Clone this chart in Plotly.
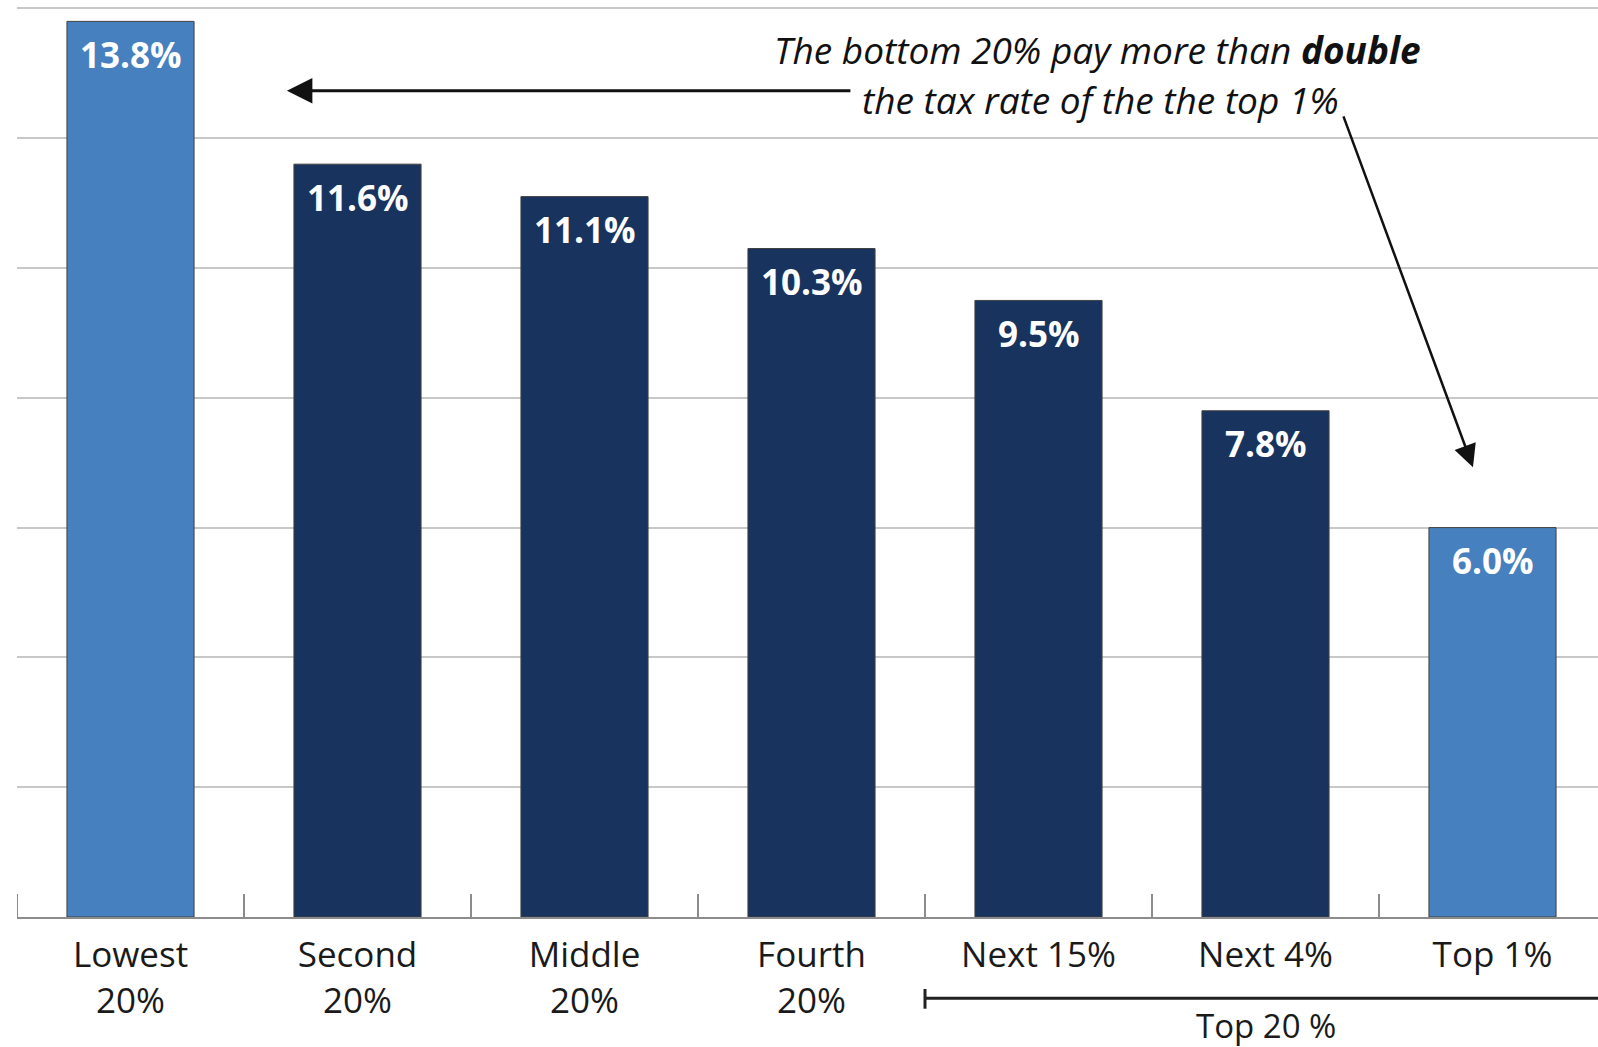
import plotly.graph_objects as go

# Effective federal tax rates by income group
groups = ["Lowest<br>20%", "Second<br>20%", "Middle<br>20%", "Fourth<br>20%",
          "Next 15%", "Next 4%", "Top 1%"]
rates = [13.8, 11.6, 11.1, 10.3, 9.5, 7.8, 6.0]
highlight = [True, False, False, False, False, False, True]

LIGHT = "#4680bf"
NAVY = "#18335e"
AXIS_GRAY = "#8c8c8c"
FONT = "Open Sans, Noto Sans, sans-serif"
TICK_LEN = 23

bar_colors = [LIGHT if h else NAVY for h in highlight]

fig = go.Figure(
    go.Bar(
        x=groups,
        y=rates,
        width=0.56,
        marker=dict(color=bar_colors, line=dict(color="#404040", width=1)),
        hoverinfo="skip",
    )
)

# Value labels sitting just inside the top of each bar
annotations = [
    dict(
        x=g, y=v, xref="x", yref="y",
        text=f"{v:.1f}%", showarrow=False,
        yanchor="middle", yshift=-33,
        font=dict(family=FONT, size=35, color="white", weight="bold"),
    )
    for g, v in zip(groups, rates)
]

# Callout text
annotations += [
    dict(
        x=4.258, y=13.37, xref="x", yref="y", showarrow=False,
        text="<i>The bottom 20% pay more than <b>double</b></i>",
        font=dict(family=FONT, size=37, color="#111111"),
        xanchor="center", yanchor="middle",
    ),
    dict(
        x=4.275, y=12.60, xref="x", yref="y", showarrow=False,
        text="<i>the tax rate of the the top 1%</i>",
        font=dict(family=FONT, size=37, color="#111111"),
        xanchor="center", yanchor="middle",
    ),
    # arrow pointing at the lowest 20%
    dict(
        x=0.689, y=12.73, ax=3.178, ay=12.73,
        xref="x", yref="y", axref="x", ayref="y",
        text="", showarrow=True, arrowhead=2, arrowsize=1.7,
        arrowwidth=3, arrowcolor="#111111",
    ),
    # arrow pointing at the top 1%
    dict(
        x=5.914, y=6.93, ax=5.341, ay=12.36,
        xref="x", yref="y", axref="x", ayref="y",
        text="", showarrow=True, arrowhead=2, arrowsize=1.8,
        arrowwidth=2.5, arrowcolor="#111111",
    ),
    # bracket label
    dict(
        x=5, y=-0.1178, xref="x", yref="paper", showarrow=False,
        text="Top 20 %", font=dict(family=FONT, size=33, color="#1a1a1a"),
        xanchor="center", yanchor="middle",
    ),
]

plot_height = 1047 - 130
shapes = [
    # bracket spanning the top 20% groups
    dict(type="line", xref="x", yref="paper", x0=3.5, x1=7.0,
         y0=-0.0885, y1=-0.0885, line=dict(color="#222222", width=3)),
    dict(type="line", xref="x", yref="paper", x0=3.5, x1=3.5,
         y0=-0.0785, y1=-0.1000, line=dict(color="#222222", width=3)),
    # boundary tick at the left end of the category axis
    dict(type="line", xref="x", yref="paper", x0=-0.5, x1=-0.5,
         y0=0, y1=TICK_LEN / plot_height,
         line=dict(color=AXIS_GRAY, width=2)),
]

fig.update_layout(
    width=1598,
    height=1047,
    margin=dict(l=17, r=0, t=0, b=130),
    paper_bgcolor="white",
    plot_bgcolor="white",
    showlegend=False,
    annotations=annotations,
    shapes=shapes,
    font=dict(family=FONT),
)

fig.update_xaxes(
    range=[-0.5, -0.5 + 1581 / 227],
    showgrid=False,
    showline=True, linecolor=AXIS_GRAY, linewidth=2,
    ticks="inside", tickson="boundaries", ticklen=TICK_LEN,
    tickcolor=AXIS_GRAY, tickwidth=2,
    tickfont=dict(family=FONT, size=35, color="#1a1a1a"),
    ticklabelstandoff=6,
    fixedrange=True,
)

fig.update_yaxes(
    range=[0, plot_height / 64.9],
    dtick=2,
    showgrid=True, gridcolor="#c8c8c8", gridwidth=2,
    zeroline=False,
    showticklabels=False,
    showline=False,
    fixedrange=True,
)

fig.write_html("out.html", config={"displayModeBar": False})
